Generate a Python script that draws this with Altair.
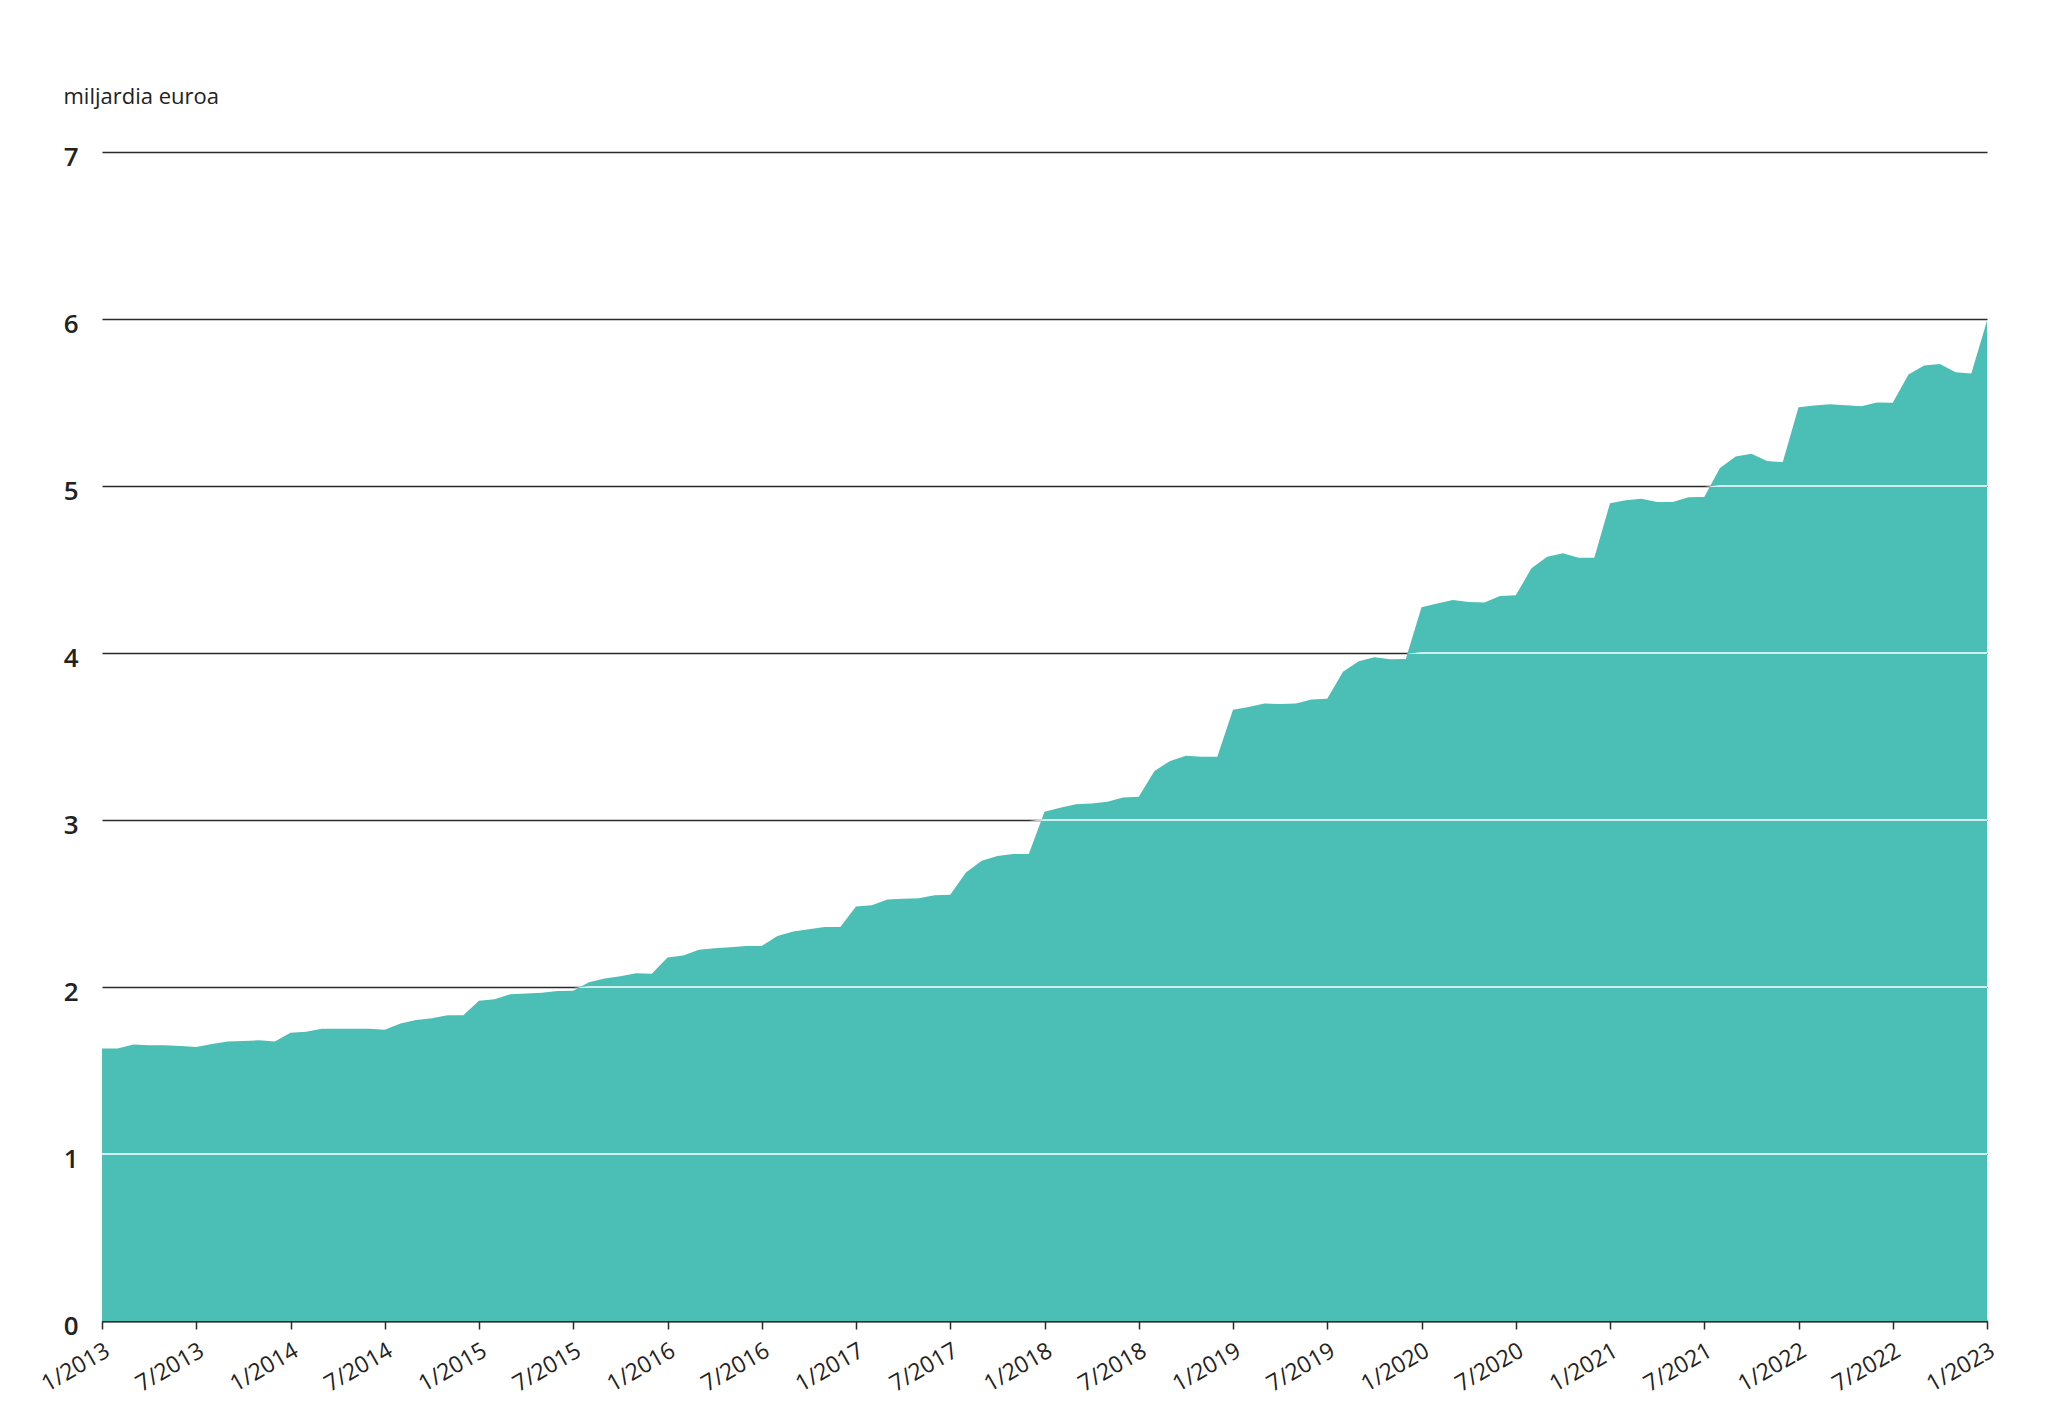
import json
import altair as alt
import pandas as pd

# Monthly values, 1/2013 ... 1/2023 (billion euros)
values = [
    1.632, 1.632, 1.655, 1.651, 1.651, 1.647, 1.641, 1.659, 1.673, 1.677, 1.681, 1.673,
    1.726, 1.732, 1.750, 1.750, 1.750, 1.750, 1.744, 1.781, 1.803, 1.813, 1.831, 1.831,
    1.918, 1.927, 1.957, 1.961, 1.965, 1.976, 1.978, 2.028, 2.051, 2.065, 2.082, 2.080,
    2.177, 2.189, 2.223, 2.232, 2.238, 2.246, 2.246, 2.305, 2.332, 2.346, 2.360, 2.360,
    2.482, 2.490, 2.524, 2.528, 2.532, 2.549, 2.553, 2.685, 2.756, 2.784, 2.797, 2.797,
    3.050, 3.073, 3.095, 3.099, 3.109, 3.135, 3.139, 3.294, 3.354, 3.384, 3.378, 3.378,
    3.660, 3.677, 3.698, 3.694, 3.698, 3.722, 3.726, 3.887, 3.950, 3.974, 3.962, 3.964,
    4.274, 4.296, 4.318, 4.306, 4.302, 4.342, 4.346, 4.507, 4.577, 4.598, 4.571, 4.571,
    4.897, 4.914, 4.924, 4.904, 4.904, 4.932, 4.934, 5.108, 5.177, 5.193, 5.149, 5.143,
    5.472, 5.482, 5.490, 5.484, 5.478, 5.500, 5.498, 5.667, 5.721, 5.731, 5.681, 5.673,
    5.990,
]

tick_labels = [
    "1/2013", "7/2013", "1/2014", "7/2014", "1/2015", "7/2015", "1/2016", "7/2016",
    "1/2017", "7/2017", "1/2018", "7/2018", "1/2019", "7/2019", "1/2020", "7/2020",
    "1/2021", "7/2021", "1/2022", "7/2022", "1/2023",
]

y_levels = [0, 1, 2, 3, 4, 5, 6, 7]
white_levels = [1, 2, 3, 4, 5, 6]
y_title = "miljardia euroa"

AREA_COLOR = "#4BBFB5"
INK = "#2b2b2b"
HALF = 0.0042  # half thickness of white gridline in data units

months = list(range(len(values)))
df = pd.DataFrame({"m": months, "v": values})

rows = []
for lvl in white_levels:
    for m, v in zip(months, values):
        top = min(max(v, lvl - HALF), lvl + HALF)
        rows.append({"m": m, "level": lvl, "top": top, "bot": lvl - HALF})
bdf = pd.DataFrame(rows)

label_expr = json.dumps(tick_labels) + "[round(datum.value / 6)]"

x_scale = alt.Scale(domain=[0, len(values) - 1], nice=False, zero=False)
y_scale = alt.Scale(domain=[0, 7], nice=False)

x_axis = alt.Axis(
    values=list(range(0, len(values), 6)),
    labelExpr=label_expr,
    labelAngle=-30,
    labelAlign="right",
    labelBaseline="top",
    labelFont="Open Sans",
    labelFontSize=23,
    labelColor="#222222",
    labelPadding=10,
    labelFlush=False,
    labelOverlap=False,
    tickSize=8,
    tickColor=INK,
    tickWidth=1.5,
    domainColor=INK,
    domainWidth=2,
    grid=False,
    title=None,
)

y_axis = alt.Axis(
    values=y_levels,
    grid=True,
    gridColor=INK,
    gridWidth=1.5,
    domain=False,
    ticks=False,
    labelFont="Open Sans",
    labelFontWeight=600,
    labelPadding=24,
    labelFontSize=26,
    labelColor="#222222",
    labelOffset=5,
    title=y_title,
    titleFont="Open Sans",
    titleAngle=0,
    titleAlign="left",
    titleBaseline="alphabetic",
    titleX=-39,
    titleY=-49,
    titleFontSize=22,
    titleFontWeight="normal",
    titleColor="#222222",
)

area = alt.Chart(df).mark_area(color=AREA_COLOR).encode(
    x=alt.X("m:Q", scale=x_scale, axis=x_axis),
    y=alt.Y("v:Q", scale=y_scale, axis=y_axis),
)

bands = alt.Chart(bdf).mark_area(color="white").encode(
    x=alt.X("m:Q", scale=x_scale, axis=x_axis),
    y=alt.Y("top:Q", scale=y_scale, axis=y_axis),
    y2="bot:Q",
    detail="level:N",
)

chart = (
    alt.layer(area, bands)
    .properties(
        width=1885,
        height=1169,
        autosize=alt.AutoSizeParams(type="none"),
        padding={"left": 94, "top": 144, "right": 40, "bottom": 80},
        background="white",
    )
    .configure_view(strokeWidth=0)
)

chart.save("out.html", embed_options={"renderer": "svg", "actions": False})
